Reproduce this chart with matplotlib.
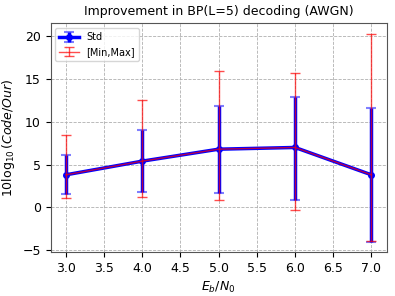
import matplotlib
matplotlib.use("Agg")
import matplotlib.pyplot as plt
from matplotlib.ticker import MultipleLocator
import numpy as np

ebn0 = [3.0, 4.0, 5.0, 6.0, 7.0]
mean = [3.8, 5.4, 6.8, 7.0, 3.8]
std_lo = [1.5, 1.8, 1.7, 0.9, -4.0]
std_hi = [6.1, 9.0, 11.8, 12.9, 11.6]
vmin = [1.1, 1.2, 0.8, -0.3, -3.9]
vmax = [8.5, 12.5, 16.0, 15.7, 20.3]

m = np.array(mean)
std_err = [m - np.array(std_lo), np.array(std_hi) - m]
mm_err = [m - np.array(vmin), np.array(vmax) - m]

fig = plt.figure(figsize=(3.95, 2.96), dpi=100)
ax = fig.add_axes([0.128, 0.149, 0.851, 0.772])

cont = ax.errorbar(ebn0, mean, yerr=std_err, fmt='-o', color='blue', lw=2.5, ms=4,
                   elinewidth=2.5, capsize=3.5, capthick=1.5, ecolor='blue',
                   label='Std', zorder=2)
for cl in cont[1]:
    cl.set_alpha(0.5)
ax.errorbar(ebn0, mean, yerr=mm_err, fmt='-', color='red', lw=1, alpha=0.7,
            capsize=3.5, capthick=1, label='[Min,Max]', zorder=3)

ax.xaxis.set_major_locator(MultipleLocator(0.5))
ax.yaxis.set_major_locator(MultipleLocator(5))
ax.grid(True, linestyle='--', color='#b0b0b0', lw=0.6)
ax.set_title('Improvement in BP(L=5) decoding (AWGN)', fontsize=9)
ax.set_xlabel(r'$E_b/N_0$', fontsize=9)
ax.set_ylabel(r'$10\log_{10}(Code/Our)$', fontsize=9)
ax.tick_params(labelsize=9)
for s in ax.spines.values():
    s.set_color('#555555')
ax.legend(loc='upper left', fontsize=7)

fig.savefig('out.png', dpi=100)
